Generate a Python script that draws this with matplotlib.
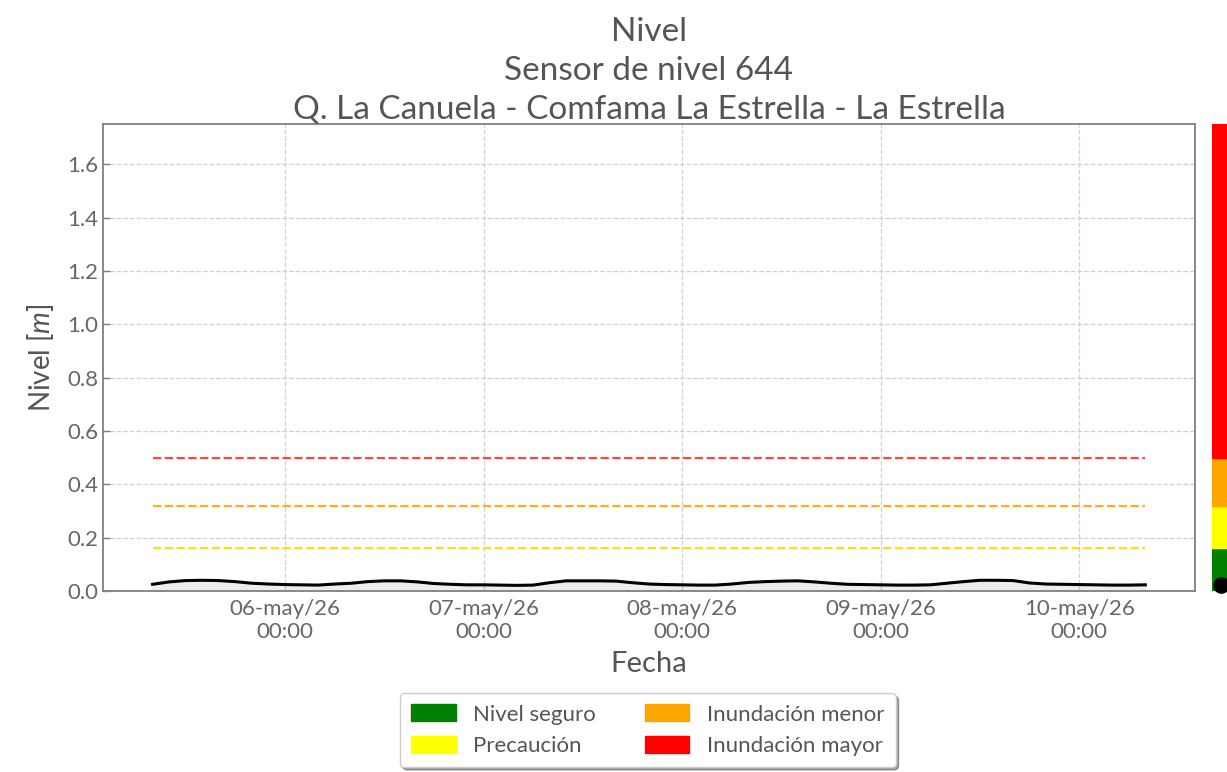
import matplotlib
matplotlib.use("Agg")
import matplotlib.pyplot as plt
import matplotlib.dates as mdates
from matplotlib.patches import Patch
import pandas as pd

plt.rcParams["font.family"] = ["Lato", "DejaVu Sans"]
plt.rcParams["mathtext.fontset"] = "custom"
plt.rcParams["mathtext.it"] = "Lato:italic"

TITLE = "Nivel\nSensor de nivel 644\nQ. La Canuela - Comfama La Estrella - La Estrella"
START = "2026-05-05 08:00"
STEP_HOURS = 2
LEVELS = [0.025, 0.034, 0.039, 0.040, 0.039, 0.035, 0.029, 0.026, 0.024, 0.023,
          0.022, 0.026, 0.029, 0.035, 0.038, 0.038, 0.034, 0.028, 0.025, 0.023,
          0.023, 0.022, 0.021, 0.022, 0.031, 0.038, 0.038, 0.038, 0.037, 0.031,
          0.026, 0.024, 0.023, 0.022, 0.022, 0.026, 0.032, 0.035, 0.037, 0.038,
          0.034, 0.029, 0.025, 0.024, 0.023, 0.022, 0.022, 0.023, 0.029, 0.035,
          0.040, 0.040, 0.039, 0.030, 0.026, 0.025, 0.024, 0.023, 0.022, 0.022,
          0.023]
THRESH_NAMES = ["Nivel seguro", "Precaución", "Inundación menor", "Inundación mayor"]
THRESH_VALUES = [0.16, 0.32, 0.50]
THRESH_LINE_COLORS = ["#ffd700", "#ffa500", "#ff3030"]
BAND_COLORS = ["#008000", "#ffff00", "#ffa500", "#ff0000"]
MESES = ["ene", "feb", "mar", "abr", "may", "jun", "jul", "ago", "sep", "oct", "nov", "dic"]
YMAX = 1.75

times = pd.date_range(START, periods=len(LEVELS), freq=f"{STEP_HOURS}h")

fig = plt.figure(figsize=(12.27, 7.72), dpi=100)
ax = fig.add_axes([0.0839, 0.2345, 0.8900, 0.6045])

ax.fill_between(times, LEVELS, color="#e6e6e6", alpha=0.7, zorder=2)
ax.plot(times, LEVELS, color="black", linewidth=2.2, zorder=3)
for val, col in zip(THRESH_VALUES, THRESH_LINE_COLORS):
    ax.plot([times[0], times[-1]], [val, val], color=col, linestyle="--",
            linewidth=1.6, alpha=0.9, zorder=2)

ax.set_ylim(0, YMAX)
ax.set_yticks([0.0, 0.2, 0.4, 0.6, 0.8, 1.0, 1.2, 1.4, 1.6])
ax.yaxis.set_major_formatter(plt.FuncFormatter(lambda v, p: f"{v:.1f}"))
ax.xaxis.set_major_locator(mdates.DayLocator())


def fmt_fecha(x, pos):
    d = mdates.num2date(x)
    return f"{d.day:02d}-{MESES[d.month - 1]}/{d.strftime('%y')}\n{d.strftime('%H:%M')}"


ax.xaxis.set_major_formatter(plt.FuncFormatter(fmt_fecha))
ax.grid(True, linestyle="--", color="#d0d0d0", linewidth=0.9, zorder=0)
ax.tick_params(direction="in", labelsize=16, colors="#808080", labelcolor="#666666",
               length=5, width=1)
ax.tick_params(axis="x", pad=6)
for s in ax.spines.values():
    s.set_color("#808080")
    s.set_linewidth(1.3)

ax.set_xlabel("Fecha", fontsize=21, color="#555555", labelpad=6)
ax.set_ylabel("Nivel [$m$]", fontsize=20, color="#555555", labelpad=8)
ax.set_title(TITLE, fontsize=24, color="#555555", linespacing=1.35, pad=4)

# colour band on the right
cax = fig.add_axes([0.988, 0.2345, 0.03, 0.6045])
bounds = [0] + THRESH_VALUES + [YMAX]
for lo, hi, col in zip(bounds[:-1], bounds[1:], BAND_COLORS):
    cax.axhspan(lo, hi, color=col)
cax.scatter([0.25], [LEVELS[-1]], s=120, color="black", zorder=5, clip_on=False)
cax.set_xlim(0, 1)
cax.set_ylim(0, YMAX)
cax.axis("off")

handles = [Patch(facecolor=c, edgecolor=c) for c in BAND_COLORS]
fig.legend(handles, THRESH_NAMES, loc="lower center", bbox_to_anchor=(0.528, -0.008),
           ncol=2, fontsize=16, frameon=True, shadow=True, labelcolor="#555555",
           handlelength=2.0, handleheight=0.8, columnspacing=2.2, borderpad=0.5,
           fancybox=True, edgecolor="#cccccc")

fig.savefig("out.png", dpi=100, facecolor="white")
